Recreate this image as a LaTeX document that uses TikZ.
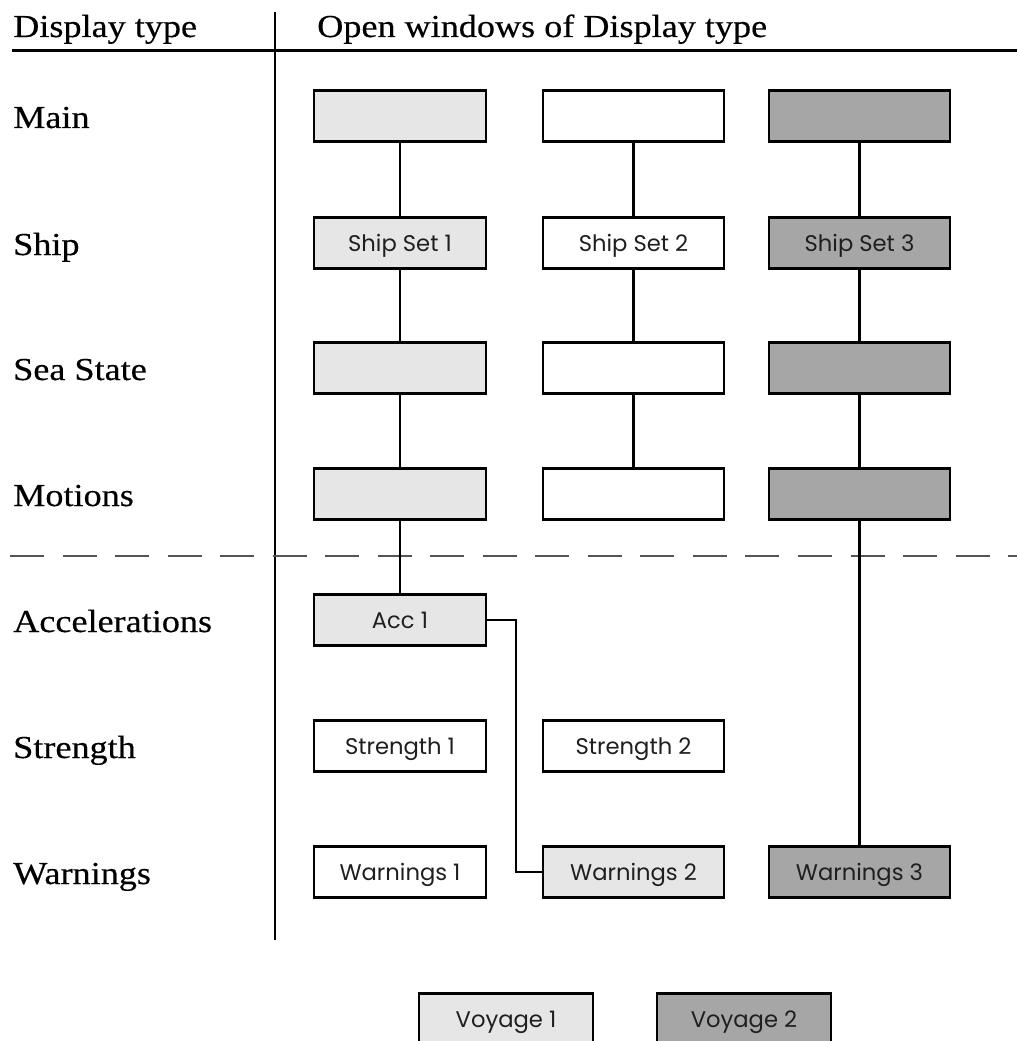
\documentclass[tikz,border=0pt]{standalone}
\usepackage{fontspec}
\setmainfont{Liberation Serif}[FakeStretch=1.13,FakeBold=0.4]
\newfontfamily\boxfont{Poppins}
\definecolor{winlite}{HTML}{E6E6E6}
\definecolor{windark}{HTML}{A6A6A6}
\definecolor{rule}{HTML}{555555}
\begin{document}
\begin{tikzpicture}[x=0.75pt,y=-0.75pt,
  win/.style={draw=black,line width=1.8pt,minimum height=38pt,inner sep=0pt,
    font=\boxfont\fontsize{17}{20}\selectfont,text=black!88,text height=12pt,text depth=0pt},
  wa/.style={win,minimum width=128.8pt},
  wb/.style={win,minimum width=135.5pt},
  lite/.style={fill=winlite},
  dark/.style={fill=windark},
  plain/.style={fill=white},
  rowlabel/.style={anchor=base west,inner sep=0pt,font=\fontsize{24}{28}\selectfont},
  wire/.style={line width=1.7pt},
  divider/.style={line width=1.6pt},
  sep/.style={line width=1.1pt,draw=rule,dash pattern=on 25.5pt off 13.9pt}]
\useasboundingbox (0,0) rectangle (1017,1041);

% header and column divider
\coordinate (hl) at (12,50.5);
\coordinate (hr) at (1017,50.5);
\coordinate (dt) at (275,12);
\coordinate (db) at (275,940);
\coordinate (sl) at (10,556);
\coordinate (sr) at (1017,556);
\draw[divider] (hl) -- (hr);
\draw[divider] (dt) -- (db);
\draw[sep] (sl) -- (sr);

\node[rowlabel] (hType) at (13,37) {Display type};
\node[rowlabel] (hOpen) at (317,37) {Open windows of Display type};

% row labels
\node[rowlabel] (lMain) at (13,128) {Main};
\node[rowlabel] (lShip) at (13,255) {Ship};
\node[rowlabel] (lSea)  at (13,380) {Sea State};
\node[rowlabel] (lMot)  at (13,506) {Motions};
\node[rowlabel] (lAcc)  at (13,632) {Accelerations};
\node[rowlabel] (lStr)  at (13,758) {Strength};
\node[rowlabel] (lWarn) at (13,884) {Warnings};

% first column
\node[wa,lite]  (m1)  at (400,116) {};
\node[wa,lite]  (s1)  at (400,243) {Ship Set 1};
\node[wa,lite]  (ss1) at (400,368) {};
\node[wa,lite]  (mo1) at (400,494) {};
\node[wa,lite]  (a1)  at (400,620) {Acc 1};
\node[wa,plain] (st1) at (400,746) {Strength 1};
\node[wa,plain] (w1)  at (400,872) {Warnings 1};

% second column
\node[wb,plain] (m2)  at (633.5,116) {};
\node[wb,plain] (s2)  at (633.5,243) {Ship Set 2};
\node[wb,plain] (ss2) at (633.5,368) {};
\node[wb,plain] (mo2) at (633.5,494) {};
\node[wb,plain] (st2) at (633.5,746) {Strength 2};
\node[wb,lite]  (w2)  at (633.5,872) {Warnings 2};

% third column
\node[wb,dark] (m3)  at (859.5,116) {};
\node[wb,dark] (s3)  at (859.5,243) {Ship Set 3};
\node[wb,dark] (ss3) at (859.5,368) {};
\node[wb,dark] (mo3) at (859.5,494) {};
\node[wb,dark] (w3)  at (859.5,872) {Warnings 3};

% legend
\node[win,lite,minimum width=130.5pt] (v1) at (506,1019) {Voyage 1};
\node[win,dark,minimum width=130.5pt] (v2) at (744,1019) {Voyage 2};

% links between windows
\draw[wire] (m1) -- (s1);
\draw[wire] (s1) -- (ss1);
\draw[wire] (ss1) -- (mo1);
\draw[wire] (mo1) -- (a1);
\draw[wire] (m2) -- (s2);
\draw[wire] (s2) -- (ss2);
\draw[wire] (ss2) -- (mo2);
\draw[wire] (m3) -- (s3);
\draw[wire] (s3) -- (ss3);
\draw[wire] (ss3) -- (mo3);
\draw[wire] (mo3) -- (w3);
\draw[wire] (a1.east) -- ++(29,0) |- (w2.west);
\end{tikzpicture}
\end{document}
